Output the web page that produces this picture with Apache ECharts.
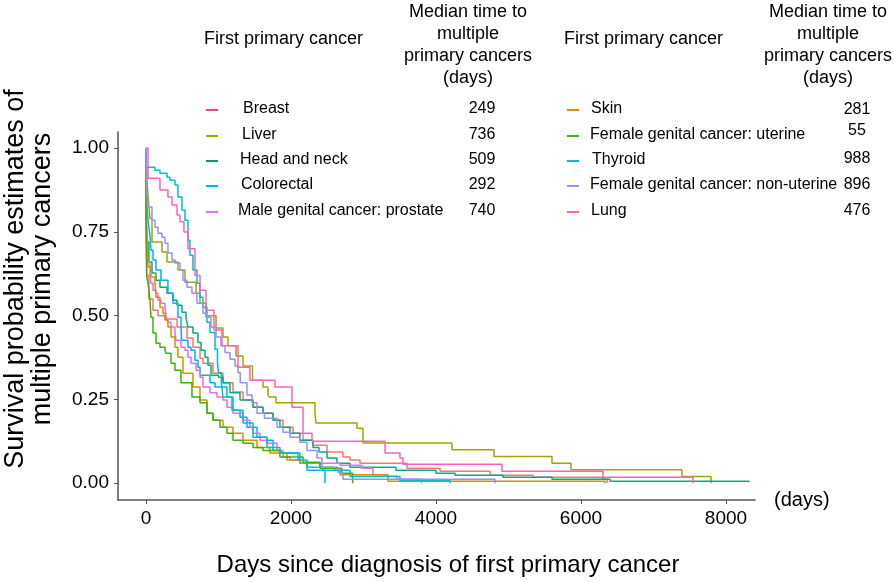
<!DOCTYPE html>
<html>
<head>
<meta charset="utf-8">
<script src="https://cdn.jsdelivr.net/npm/echarts@6/dist/echarts.min.js"></script>
<style>html,body{margin:0;padding:0;background:#fff;}#c{width:894px;height:582px;}</style>
</head>
<body>
<div id="c"></div>
<script>
// ---- data (days since diagnosis, survival probability) ----
const cancerNames = ['Breast','Liver','Head and neck','Colorectal','Male genital cancer: prostate',
  'Skin','Female genital cancer: uterine','Thyroid','Female genital cancer: non-uterine','Lung'];
const medianDays = [249, 736, 509, 292, 740, 281, 55, 988, 896, 476];
const xTicks = [0, 2000, 4000, 6000, 8000];
const yTicks = [0, 0.25, 0.5, 0.75, 1.0];

const breast = [[0,1],[3,0.80],[10,0.62],[40,0.55],[97,0.516],[166,0.50],[262,0.49],[428,0.466],[566,0.433],[648,0.406],[745,0.373],[786,0.358],[924,0.328],[1062,0.30],[1200,0.272],[1338,0.248],[1476,0.227],[1614,0.209],[1752,0.188],[1890,0.167],[2028,0.149],[2166,0.128],[2303,0.113],[2497,0.093],[2717,0.078],[2814,0.069],[2952,0.06],[3600,0.045],[4055,0.036],[4745,0.024],[5338,0.018],[6300,0.012],[6360,0]];
const liver = [[0,1],[15,0.90],[28,0.86],[55,0.79],[83,0.72],[221,0.69],[290,0.66],[441,0.636],[538,0.60],[690,0.567],[745,0.537],[828,0.50],[966,0.463],[1062,0.436],[1131,0.41],[1241,0.38],[1338,0.35],[1469,0.307],[1614,0.287],[1683,0.263],[1700,0.257],[1793,0.24],[2331,0.21],[2345,0.18],[2910,0.164],[2993,0.12],[4221,0.10],[4800,0.08],[5600,0.06],[5862,0.04],[7393,0.02],[7793,0]];
const headNeck = [[0,1],[8,0.72],[40,0.66],[83,0.627],[138,0.606],[193,0.585],[290,0.567],[372,0.546],[428,0.531],[497,0.51],[552,0.495],[579,0.466],[648,0.448],[717,0.42],[760,0.397],[814,0.376],[855,0.352],[897,0.322],[1000,0.316],[1062,0.30],[1159,0.27],[1297,0.248],[1476,0.227],[1614,0.209],[1752,0.188],[1848,0.167],[1986,0.149],[2124,0.128],[2303,0.107],[2386,0.093],[2497,0.075],[2634,0.06],[2814,0.048],[3448,0.039],[4000,0.03],[4262,0.024],[4924,0.018],[5600,0.012],[6400,0.006],[8317,0.003]];
const colorectal = [[0,1],[8,0.84],[30,0.78],[55,0.74],[69,0.695],[97,0.666],[138,0.636],[207,0.606],[303,0.567],[372,0.537],[441,0.495],[483,0.466],[490,0.427],[579,0.406],[621,0.397],[676,0.367],[717,0.346],[745,0.322],[883,0.30],[952,0.287],[1117,0.257],[1186,0.218],[1297,0.197],[1393,0.167],[1531,0.137],[1669,0.128],[1752,0.098],[1876,0.09],[2124,0.06],[2221,0.039],[2469,0]];
const prostate = [[0,1],[5,0.80],[20,0.66],[55,0.62],[69,0.597],[97,0.576],[138,0.567],[166,0.546],[207,0.537],[262,0.522],[276,0.50],[303,0.48],[345,0.466],[400,0.448],[414,0.427],[483,0.406],[538,0.397],[579,0.376],[621,0.358],[690,0.337],[745,0.316],[786,0.287],[883,0.27],[979,0.257],[1062,0.248],[1117,0.227],[1200,0.209],[1338,0.188],[1434,0.167],[1476,0.149],[1572,0.128],[1669,0.119],[1807,0.098],[1890,0.078],[1986,0.069],[2124,0.06],[2676,0.054],[2979,0.045],[3131,0.021],[3462,0.012],[3800,0]];
const skin = [[0,1],[5,0.78],[15,0.70],[28,0.645],[69,0.615],[124,0.597],[138,0.555],[193,0.525],[234,0.507],[262,0.487],[303,0.466],[345,0.436],[400,0.406],[441,0.376],[510,0.328],[648,0.287],[745,0.248],[841,0.209],[924,0.188],[1062,0.167],[1200,0.149],[1338,0.128],[1531,0.107],[1710,0.09],[1945,0.069],[2124,0.06],[2400,0.048],[2600,0.039],[2676,0.025],[3338,0.006],[6331,0]];
const uterine = [[0,1],[3,0.73],[10,0.615],[28,0.597],[55,0.546],[69,0.495],[97,0.448],[138,0.418],[193,0.406],[262,0.397],[276,0.388],[345,0.358],[400,0.337],[483,0.30],[634,0.257],[745,0.24],[841,0.209],[924,0.188],[1021,0.167],[1117,0.149],[1200,0.128],[1338,0.119],[1476,0.107],[1614,0.098],[1848,0.078],[2166,0.063],[2400,0.045],[2700,0.03],[2850,0]];
const thyroid = [[0,1],[1,0.943],[124,0.934],[193,0.925],[290,0.913],[331,0.904],[400,0.89],[441,0.854],[497,0.815],[538,0.785],[579,0.725],[607,0.68],[648,0.636],[703,0.597],[745,0.555],[786,0.525],[841,0.48],[883,0.45],[952,0.40],[986,0.36],[1000,0.33],[1040,0.30],[1062,0.257],[1200,0.218],[1338,0.18],[1476,0.137],[1669,0.107],[1848,0.09],[2097,0.069],[2221,0.048],[2441,0.039],[2814,0.02],[3503,0.008],[4193,0]];
const nonUterine = [[0,1],[10,0.88],[28,0.824],[83,0.785],[124,0.764],[166,0.746],[221,0.734],[262,0.716],[303,0.687],[359,0.666],[400,0.657],[469,0.636],[510,0.606],[566,0.585],[634,0.567],[703,0.537],[786,0.507],[828,0.495],[897,0.466],[966,0.436],[1034,0.41],[1090,0.39],[1159,0.37],[1228,0.35],[1269,0.33],[1300,0.30],[1393,0.263],[1462,0.24],[1531,0.209],[1634,0.194],[1807,0.167],[1890,0.152],[1986,0.137],[2124,0.122],[2221,0.098],[2359,0.075],[2428,0.048],[2648,0.033],[2717,0.012],[4814,0]];
const lung = [[0,1],[28,0.91],[193,0.875],[303,0.854],[359,0.83],[428,0.80],[469,0.78],[524,0.75],[579,0.70],[676,0.62],[745,0.576],[828,0.516],[938,0.457],[1048,0.41],[1269,0.346],[1434,0.307],[1779,0.287],[2014,0.227],[2166,0.149],[2290,0.125],[3297,0.09],[3503,0.075],[3545,0.057],[4910,0.036],[6303,0.018],[7545,0]];

const curves = [breast, liver, headNeck, colorectal, prostate, skin, uterine, thyroid, nonUterine, lung];
const colors = ['#F8766D','#A3A500','#00B07A','#00B0F6','#E76BF3','#D89000','#39B600','#00BFC4','#9590FF','#FF62BC'];
const legendColors = ['#E8506E','#A3A500','#00A06E','#00B0F6','#E76BF3','#D89000','#39B600','#00BFC4','#9590FF','#FF62BC'];

const FONT = '"Liberation Sans", Arial, sans-serif';
const chart = echarts.init(document.getElementById('c'), null, {renderer: 'canvas'});

const graphics = [];
function txt(x, y, s, size, align, vAlign) {
  graphics.push({type: 'text', x: x, y: y, style: {text: s, fill: '#000', font: size + 'px ' + FONT,
    align: align || 'left', verticalAlign: vAlign || 'middle', lineHeight: 22}});
}
// headers
txt(204, 39, 'First primary cancer', 18);
txt(468, 1, 'Median time to\nmultiple\nprimary cancers\n(days)', 18, 'center', 'top');
txt(564, 39, 'First primary cancer', 18);
txt(828, 1, 'Median time to\nmultiple\nprimary cancers\n(days)', 18, 'center', 'top');
// legend entries
const rowsY = [109, 135, 160, 185, 211];
const leftTextX = [243, 242, 240, 241, 238];
const rightTextX = [591, 590, 592, 590, 591];
const rightValY = [110, 131, 159, 185, 211];
for (let i = 0; i < 5; i++) {
  graphics.push({type: 'line', shape: {x1: 206, y1: rowsY[i] + 1, x2: 218, y2: rowsY[i] + 1}, style: {stroke: legendColors[i], lineWidth: 2}});
  txt(leftTextX[i], rowsY[i], cancerNames[i], 16);
  txt(482, rowsY[i], String(medianDays[i]), 16, 'center');
  const j = i + 5;
  graphics.push({type: 'line', shape: {x1: 567, y1: rowsY[i] + 1, x2: 579, y2: rowsY[i] + 1}, style: {stroke: legendColors[j], lineWidth: 2}});
  txt(rightTextX[i], rowsY[i], cancerNames[j], 16);
  txt(857, rightValY[i], String(medianDays[j]), 16, 'center');
}
// axis titles
graphics.push({type: 'text', x: 29, y: 279, rotation: Math.PI / 2,
  style: {text: 'Survival probability estimates of\nmultiple primary cancers', fill: '#000',
    font: '27px ' + FONT, align: 'center', verticalAlign: 'middle', lineHeight: 27}});
txt(448, 565, 'Days since diagnosis of first primary cancer', 24, 'center');
txt(774, 500, '(days)', 20, 'left');

const option = {
  animation: false,
  backgroundColor: '#fff',
  grid: {left: 118, right: 139, top: 132, bottom: 82, containLabel: false},
  xAxis: {
    type: 'value', min: -386, max: 8400,
    axisLine: {show: true, onZero: false, lineStyle: {color: '#555', width: 1.5}},
    axisTick: {show: true, customValues: xTicks, length: 4, lineStyle: {color: '#555'}},
    axisLabel: {customValues: xTicks, color: '#000', fontSize: 19, fontFamily: FONT, margin: 9,
      formatter: v => String(v)},
    splitLine: {show: false}
  },
  yAxis: {
    type: 'value', min: -0.05, max: 1.048,
    axisLine: {show: true, onZero: false, lineStyle: {color: '#555', width: 1.5}},
    axisTick: {show: true, customValues: yTicks, length: 4, lineStyle: {color: '#555'}},
    axisLabel: {customValues: yTicks, color: '#000', fontSize: 19, fontFamily: FONT, margin: 9,
      formatter: v => v.toFixed(2)},
    splitLine: {show: false}
  },
  series: curves.map((d, i) => ({
    name: cancerNames[i], type: 'line', step: 'end', data: d, showSymbol: false, symbol: 'none',
    lineStyle: {color: colors[i], width: 1.5}, itemStyle: {color: colors[i]}, z: 2
  })),
  graphic: graphics
};
chart.setOption(option);
</script>
</body>
</html>
